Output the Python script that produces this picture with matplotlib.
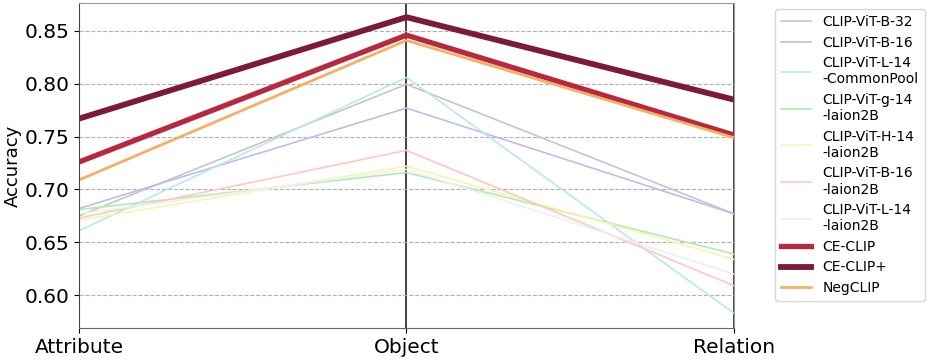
import matplotlib
matplotlib.use("Agg")
import matplotlib.pyplot as plt

categories = ["Attribute", "Object", "Relation"]
models = ["CLIP-ViT-B-32", "CLIP-ViT-B-16", "CLIP-ViT-L-14\n-CommonPool",
          "CLIP-ViT-g-14\n-laion2B", "CLIP-ViT-H-14\n-laion2B", "CLIP-ViT-B-16\n-laion2B",
          "CLIP-ViT-L-14\n-laion2B", "CE-CLIP", "CE-CLIP+", "NegCLIP"]
b32 = [0.675, 0.7995, 0.677]
b16 = [0.682, 0.777, 0.677]
l14_cp = [0.661, 0.806, 0.583]
g14_l2b = [0.681, 0.716, 0.639]
h14_l2b = [0.671, 0.722, 0.634]
b16_l2b = [0.673, 0.737, 0.609]
l14_l2b = [0.677, 0.719, 0.620]
ce_clip = [0.726, 0.846, 0.7515]
ce_clip_plus = [0.767, 0.863, 0.785]
negclip = [0.709, 0.841, 0.749]
series = [b32, b16, l14_cp, g14_l2b, h14_l2b, b16_l2b, l14_l2b, ce_clip, ce_clip_plus, negclip]

colors = ["#c6c6c6", "#bcbcf2", "#b8e8ee", "#b4eab0", "#f2f8b0", "#ffc8c0", "#f0f0f0",
          "#b8283f", "#7d1a3c", "#f5b062"]
widths = [1.2, 1.2, 1.2, 1.2, 1.2, 1.2, 1.2, 3.8, 4.2, 2.0]

fig = plt.figure(figsize=(9.29, 3.62), dpi=100)
ax = fig.add_axes([0.085, 0.094, 0.705, 0.898])
x = list(range(len(categories)))
for vals, name, c, w in zip(series, models, colors, widths):
    ax.plot(x, vals, color=c, lw=w, label=name)
for xi in x:
    ax.axvline(xi, color="#222222", lw=1.2, zorder=0.5)
ax.set_xlim(0, 2)
ax.set_ylim(0.569, 0.8765)
ax.set_yticks([0.60, 0.65, 0.70, 0.75, 0.80, 0.85])
ax.set_xticks(x)
ax.set_xticklabels(categories, fontsize=14.5)
ax.tick_params(axis="y", labelsize=14.5)
ax.set_ylabel("Accuracy", fontsize=13, labelpad=2)
ax.yaxis.grid(True, linestyle="--", color="#b0b0b0", lw=0.8)
ax.set_axisbelow(True)
for s in ["top", "bottom", "left", "right"]:
    ax.spines[s].set_color("#999999")
ax.spines["left"].set_color("#444444")
ax.spines["bottom"].set_color("#666666")
leg = ax.legend(loc="upper left", bbox_to_anchor=(1.0626, 0.9815), fontsize=10,
                frameon=True, handlelength=2.15, labelspacing=0.47, borderpad=0.45,
                borderaxespad=0)
leg.get_frame().set_edgecolor("#cccccc")
fig.savefig("out.png", dpi=100)
